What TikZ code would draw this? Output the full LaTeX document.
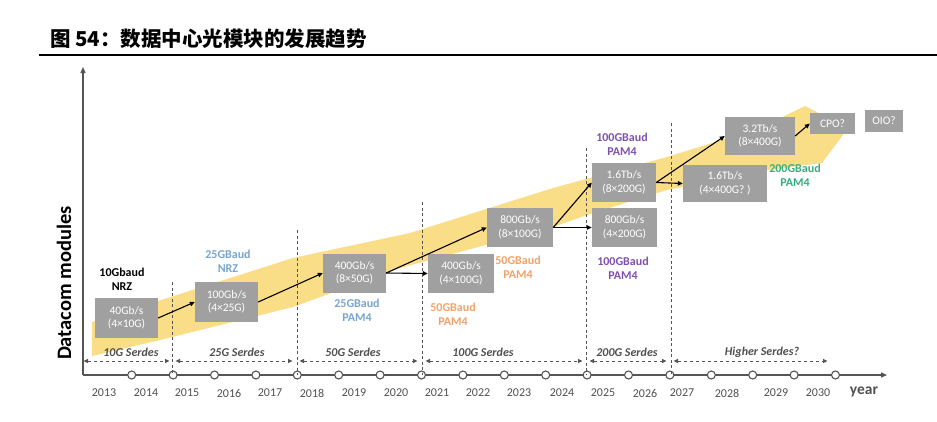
\documentclass[tikz,border=0pt]{standalone}
\usepackage{fontspec}
\setmainfont{Carlito}
\newfontfamily\cjk{Noto Sans CJK SC}
\usetikzlibrary{arrows.meta}
\definecolor{boxgray}{RGB}{160,160,160}
\definecolor{bandyellow}{RGB}{250,221,135}
\definecolor{axisgray}{RGB}{85,85,85}
\definecolor{txtgray}{RGB}{80,80,80}
\definecolor{lblblue}{RGB}{120,165,205}
\definecolor{lblorange}{RGB}{242,162,105}
\definecolor{lblpurple}{RGB}{128,80,175}
\definecolor{lblgreen}{RGB}{50,175,125}
\begin{document}
\begin{tikzpicture}[x=1pt,y=-1pt,
  box/.style={fill=boxgray,text=white,font=\fontsize{11.5}{13.5}\selectfont,align=center,inner sep=0pt},
  lbl/.style={font=\bfseries\fontsize{12}{14}\selectfont,align=center,inner sep=0pt},
  yr/.style={font=\fontsize{12}{14}\selectfont,text=txtgray,inner sep=0pt},
  serdes/.style={font=\bfseries\itshape\fontsize{12}{14}\selectfont,text=txtgray,inner sep=0pt},
  conn/.style={-{Triangle[length=5pt,width=4.5pt]},line width=1.1pt,black},
  span/.style={{Triangle[length=4.5pt,width=4pt]}-{Triangle[length=4.5pt,width=4pt]},dashed,line width=1pt,axisgray,shorten <=0.5pt,shorten >=0.5pt},
  divider/.style={dashed,line width=1pt,axisgray,dash pattern=on 3pt off 2.5pt},
  tick/.style={circle,draw=axisgray,fill=white,line width=1.1pt,minimum size=8pt,inner sep=0pt}
]
\useasboundingbox (0,0) rectangle (937,421);
% title
\node[anchor=west,inner sep=0pt,font=\cjk\bfseries\fontsize{20.5}{22}\selectfont] (title) at (50,39) {图 54：数据中心光模块的发展趋势};
\draw[line width=2pt,black] (39,55) -- (937,55);
% band
\fill[bandyellow] (92,322) -- (293,258) -- (410,233) -- (553,188) -- (667,157) -- (760,128) -- (805,106) -- (848,128) -- (822,163) -- (767,170) -- (667,190) -- (587,215) -- (553,227) -- (400,268) -- (293,307) -- (160,340) -- (92,356) -- cycle;
% axes
\coordinate (origin) at (83,375);
\coordinate (ytop) at (83,67);
\coordinate (xend) at (887,375);
\draw[axisgray,line width=1.3pt,-{Triangle[length=6pt,width=5pt]}] (origin) -- (ytop);
\draw[axisgray,line width=1.3pt,-{Triangle[length=6pt,width=5pt]}] (origin) -- (xend);
\node[rotate=90,font=\bfseries\fontsize{20.5}{22}\selectfont,inner sep=0pt] (ylab) at (64,283) {Datacom modules};
% ticks
\foreach \k in {0,...,17} { \node[tick] (t\k) at ({131.7+41.4*\k},375) {}; }
% years
\foreach \y/\x in {2013/104,2014/146,2015/187,2016/229,2017/270,2018/312,2019/354,2020/396,2021/437,2022/478,2023/519,2024/562,2025/603,2026/645,2027/682,2028/727,2029/776,2030/818} {
  \node[yr] (y\y) at (\x,393) {\y};
}
\node[font=\bfseries\fontsize{15.5}{17}\selectfont,text=txtgray,inner sep=0pt] (yearlab) at (864,392) {year};
% dividers
\foreach \n/\x/\t in {d1/172/282,d2/297/230,d3/422/202,d4/586/148,d5/671/123} {
  \coordinate (\n top) at (\x,\t); \coordinate (\n bot) at (\x,375);
  \draw[divider] (\n top) -- (\n bot);
}
% serdes spans
\foreach \n/\a/\b in {s1/83/170,s2/175/293,s3/299/418,s4/425/583,s5/589/667,s6/673/828} {
  \coordinate (\n a) at (\a,361); \coordinate (\n b) at (\b,361);
  \draw[span] (\n a) -- (\n b);
}
\node[serdes] (sl1) at (131,352) {10G Serdes};
\node[serdes] (sl2) at (237,352) {25G Serdes};
\node[serdes] (sl3) at (353,352) {50G Serdes};
\node[serdes] (sl4) at (483,352) {100G Serdes};
\node[serdes] (sl5) at (627,352) {200G Serdes};
\node[serdes] (sl6) at (762,352) {Higher Serdes?};
% boxes
\node[box,minimum width=63pt,minimum height=40pt] (b40) at (126.5,318) {40Gb/s\\(4×10G)};
\node[box,minimum width=63pt,minimum height=40pt] (b100) at (226.5,302) {100Gb/s\\(4×25G)};
\node[box,minimum width=63pt,minimum height=39pt] (b400a) at (354.5,273) {400Gb/s\\(8×50G)};
\node[box,minimum width=66pt,minimum height=39pt] (b400b) at (461,273.5) {400Gb/s\\(4×100G)};
\node[box,minimum width=66pt,minimum height=39pt] (b800a) at (520,227.5) {800Gb/s\\(8×100G)};
\node[box,minimum width=65pt,minimum height=39pt] (b800b) at (624.5,227.5) {800Gb/s\\(4×200G)};
\node[box,minimum width=64pt,minimum height=39pt] (b16a) at (624,182.5) {1.6Tb/s\\(8×200G)};
\node[box,minimum width=84pt,minimum height=37pt] (b16b) at (725,183.5) {1.6Tb/s\\(4×400G? )};
\node[box,minimum width=70pt,minimum height=38pt] (b32) at (760,136) {3.2Tb/s\\(8×400G)};
\node[box,minimum width=45pt,minimum height=21pt] (cpo) at (832.5,123.5) {CPO?};
\node[box,minimum width=38pt,minimum height=22pt] (oio) at (884,121) {OIO?};
% labels
\node[lbl,text=black] (l10) at (122,279) {10Gbaud\\NRZ};
\node[lbl,text=lblblue] (l25a) at (228,261) {25GBaud\\NRZ};
\node[lbl,text=lblblue] (l25b) at (357,310) {25GBaud\\PAM4};
\node[lbl,text=lblorange] (l50a) at (453,314) {50GBaud\\PAM4};
\node[lbl,text=lblorange] (l50b) at (518,267) {50GBaud\\PAM4};
\node[lbl,text=lblpurple] (l100a) at (622,144) {100GBaud\\PAM4};
\node[lbl,text=lblpurple] (l100b) at (623,268) {100GBaud\\PAM4};
\node[lbl,text=lblgreen] (l200) at (795,175) {200GBaud\\PAM4};
% connectors
\draw[conn] (b40.east) -- (b100.west);
\draw[conn] (b100.east) -- (b400a.west);
\draw[conn] (b400a.east) -- (b400b.west);
\draw[conn] (b400a.east) -- (b800a.west);
\draw[conn] (b800a.east) -- (b800b.west);
\draw[conn] (b800a.east) -- (b16a.west);
\draw[conn] (b16a.east) -- (b16b.west);
\draw[conn] (b16a.east) -- (b32.west);
\draw[conn] (b32.east) -- (cpo.west);
\end{tikzpicture}
\end{document}
